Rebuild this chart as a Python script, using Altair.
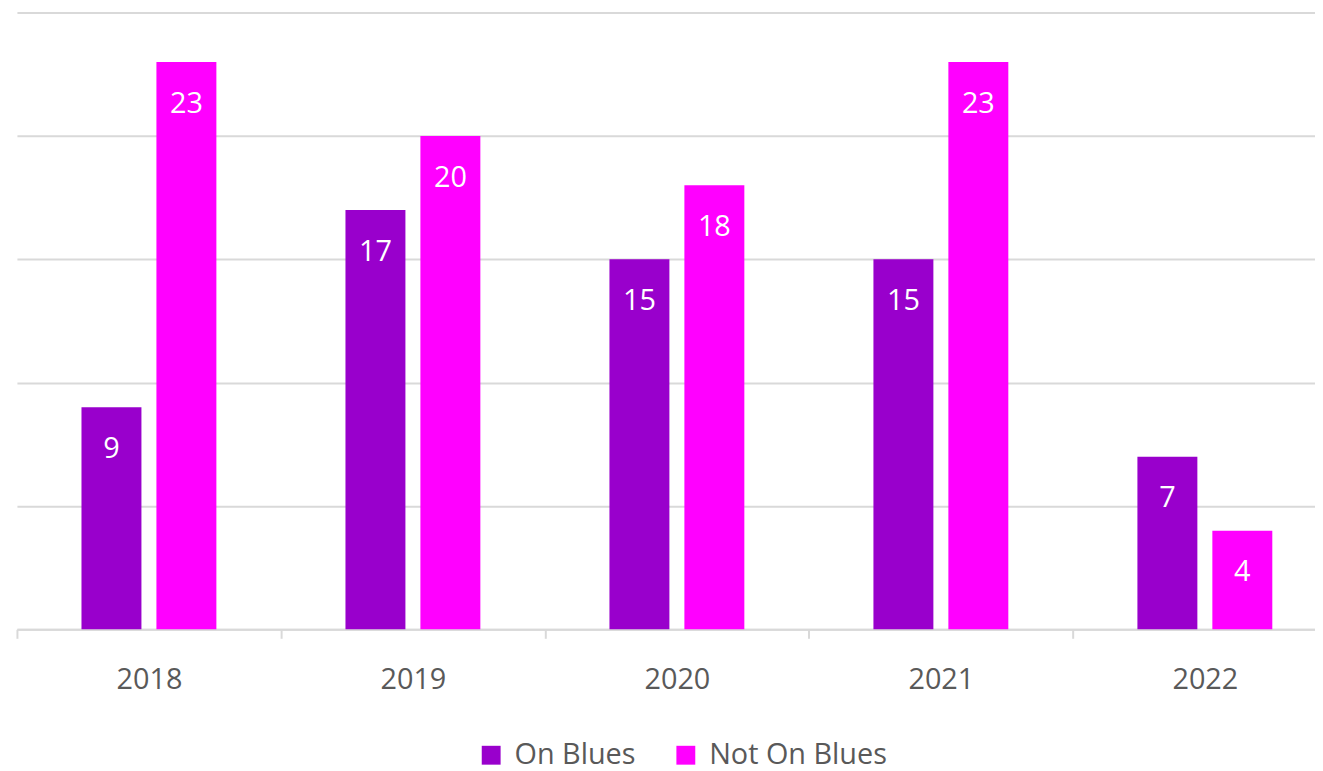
import altair as alt
import pandas as pd

years = ["2018", "2019", "2020", "2021", "2022"]
series = ["On Blues", "Not On Blues"]
on_blues = [9, 17, 15, 15, 7]
not_on_blues = [23, 20, 18, 23, 4]
colors = ["#9900CC", "#FF00FF"]

rows = []
for i, y in enumerate(years):
    rows.append({"year": y, "series": series[0], "value": on_blues[i]})
    rows.append({"year": y, "series": series[1], "value": not_on_blues[i]})
df = pd.DataFrame(rows)

FONT = "Open Sans"

x = alt.X(
    "year:N",
    sort=years,
    title=None,
    scale=alt.Scale(range=[0, 1329], paddingInner=0, paddingOuter=0),
    axis=alt.Axis(
        labelAngle=0,
        labelFontSize=29,
        labelColor="#595959",
        labelFont=FONT,
        labelPadding=28,
        tickBand="extent",
        tickSize=9,
        tickColor="#D9D9D9",
        tickWidth=2,
        domainColor="#D9D9D9",
        domainWidth=2,
        grid=False,
    ),
)
xo = alt.XOffset("series:N", sort=series, scale=alt.Scale(paddingInner=0.2, paddingOuter=0.8613))
y = alt.Y(
    "value:Q",
    title=None,
    scale=alt.Scale(domain=[0, 25], nice=False),
    axis=alt.Axis(
        values=[0, 5, 10, 15, 20, 25],
        labels=False,
        ticks=False,
        domain=False,
        grid=True,
        gridColor="#D9D9D9",
        gridWidth=2,
    ),
)
color = alt.Color(
    "series:N",
    sort=series,
    scale=alt.Scale(domain=series, range=colors),
    legend=alt.Legend(
        title=None,
        orient="none",
        direction="horizontal",
        legendX=463,
        legendY=733,
        symbolType="square",
        symbolSize=361,
        symbolStrokeWidth=0,
        labelFontSize=29,
        labelFont=FONT,
        labelColor="#595959",
        labelOffset=9,
        labelLimit=0,
        columnPadding=36,
    ),
)

bars = alt.Chart(df).mark_bar(opacity=1).encode(x=x, xOffset=xo, y=y, color=color)
labels = alt.Chart(df).mark_text(
    color="white", fontSize=29, font=FONT, baseline="middle", dy=42
).encode(x=x, xOffset=xo, y=y, text="value:Q")

chart = (
    alt.layer(bars, labels)
    .properties(
        width=1307,
        height=621,
        autosize=alt.AutoSizeParams(type="none"),
        padding={"left": 9, "top": 2, "right": 0, "bottom": 140},
    )
    .configure_view(stroke=None)
)

chart.save("out.html", embed_options={"renderer": "svg", "actions": False})
